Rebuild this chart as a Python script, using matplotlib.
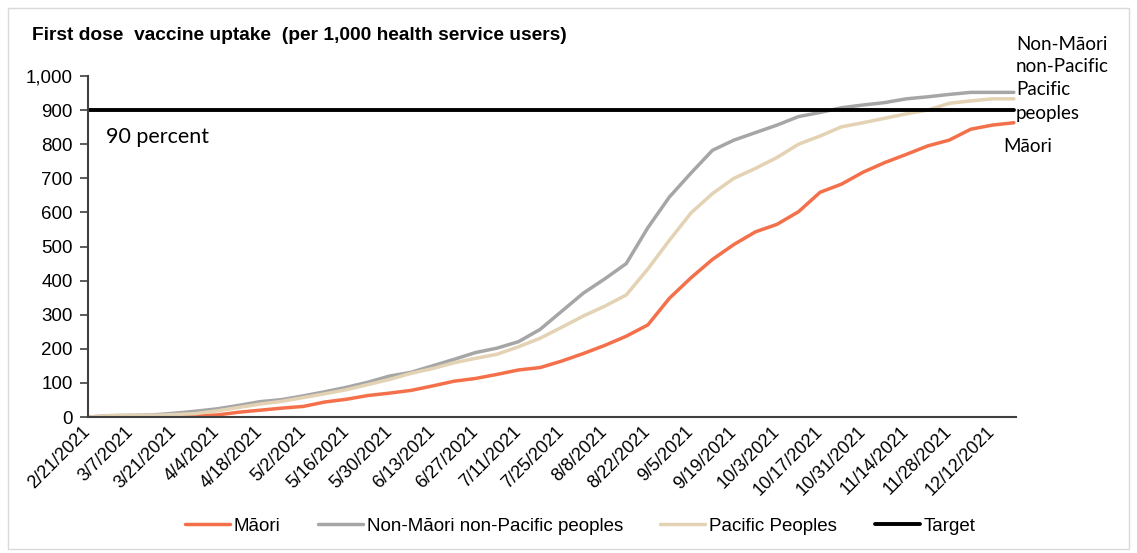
import matplotlib
matplotlib.use("Agg")
import matplotlib.pyplot as plt
import pandas as pd
from matplotlib.patches import Rectangle

# weekly dates, 2/21/2021 .. 12/19/2021
weeks = pd.date_range("2021-02-21", "2021-12-19", freq="7D")
week_labels = [f"{d.month}/{d.day}/{d.year}" for d in weeks]

maori = [0, 0, 0, 1, 2, 3, 6, 14, 20, 26, 31, 44, 52, 63, 70, 78, 91, 105, 113, 125,
         138, 145, 164, 186, 210, 237, 270, 348, 408, 462, 506, 543, 565, 602, 659,
         683, 718, 746, 770, 795, 812, 844, 856, 863]
non_maori = [0, 4, 5, 6, 11, 17, 24, 34, 45, 51, 62, 74, 87, 102, 120, 131, 150, 169,
             189, 202, 221, 257, 310, 363, 405, 450, 555, 645, 715, 782, 812, 834, 856,
             881, 893, 907, 915, 922, 933, 939, 946, 952, 952, 952]
pacific = [0, 4, 5, 5, 7, 10, 18, 28, 38, 46, 57, 68, 80, 95, 110, 128, 142, 159, 172,
           184, 206, 231, 263, 296, 325, 358, 434, 518, 598, 655, 700, 729, 761, 800,
           824, 851, 863, 876, 889, 900, 920, 927, 933, 933]
target = [900] * len(weeks)

W, H = 1137, 553
fig = plt.figure(figsize=(W / 100, H / 100), dpi=100)
ax = fig.add_axes([88 / W, 1 - 417 / H, (1016 - 88) / W, (417 - 76) / H])

x = list(range(len(weeks)))
ax.plot(x, maori, color="#F4704A", lw=2.5, label="Māori", solid_capstyle="round")
ax.plot(x, non_maori, color="#A6A6A6", lw=2.5, label="Non-Māori non-Pacific peoples",
        solid_capstyle="round")
ax.plot(x, pacific, color="#E3D2B3", lw=2.5, label="Pacific Peoples", solid_capstyle="round")
ax.plot(x, target, color="black", lw=2.8, label="Target", solid_capstyle="round")

ax.set_xlim(0, 43.1)
ax.set_ylim(0, 1000)
ax.set_yticks(range(0, 1001, 100))
ax.set_yticklabels([f"{v:,}" for v in range(0, 1001, 100)])
ax.set_xticks(x[::2])
ax.set_xticklabels(week_labels[::2], rotation=45, ha="right", va="center",
                   rotation_mode="anchor")

for s in ["top", "right"]:
    ax.spines[s].set_visible(False)
for s in ["left", "bottom"]:
    ax.spines[s].set_color("#404040")
    ax.spines[s].set_linewidth(1.5)
ax.tick_params(axis="y", length=6, width=1.2, color="#404040", labelsize=13.5, pad=5)
ax.tick_params(axis="x", length=0, labelsize=13, pad=9)
for t in ax.get_xticklabels() + ax.get_yticklabels():
    t.set_fontfamily("Liberation Sans")

fig.text(32 / W, 1 - 36 / H, "First dose  vaccine uptake  (per 1,000 health service users)",
         fontsize=13.8, fontweight="bold", family="Liberation Sans", va="center")

side = ["Lato", "DejaVu Sans"]
fig.text(106 / W, 1 - 137 / H, "90 percent", fontsize=15.5, family=side, va="center")
for txt, yy in [("Non-Māori", 44), ("non-Pacific", 67), ("Pacific", 90), ("peoples", 113)]:
    fig.text(1016 / W, 1 - yy / H, txt, fontsize=13.5, family=side, va="center")
fig.text(1003 / W, 1 - 146 / H, "Māori", fontsize=13.5, family=side, va="center")

fig.legend(loc="center", bbox_to_anchor=(580 / W, 1 - 526 / H), ncol=4, frameon=False,
           prop={"family": "Liberation Sans", "size": 13.5}, handlelength=2.4,
           handletextpad=0.2, columnspacing=2.0)

fig.patches.append(Rectangle((8 / W, 4 / H), (W - 16) / W, (H - 12) / H, transform=fig.transFigure,
                             fill=False, edgecolor="#D9D9D9", lw=1))

fig.savefig("out.png", dpi=100)
